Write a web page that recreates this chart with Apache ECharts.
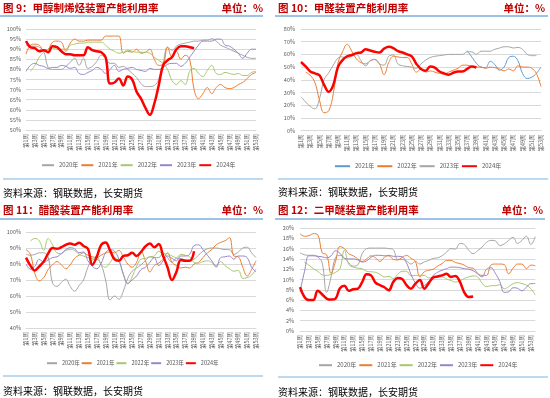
<!DOCTYPE html>
<html>
<head>
<meta charset="utf-8">
<script src="https://cdn.jsdelivr.net/npm/echarts@6/dist/echarts.min.js"></script>
<style>
html,body{margin:0;padding:0;background:#fff;}
#c{width:550px;height:398px;}
</style>
</head>
<body>
<div id="c"></div>
<script>
// ---- categories ----
const weeks = ['第1周','第2周','第3周','第4周','第5周','第6周','第7周','第8周','第9周','第10周',
'第11周','第12周','第13周','第14周','第15周','第16周','第17周','第18周','第19周','第20周',
'第21周','第22周','第23周','第24周','第25周','第26周','第27周','第28周','第29周','第30周',
'第31周','第32周','第33周','第34周','第35周','第36周','第37周','第38周','第39周','第40周',
'第41周','第42周','第43周','第44周','第45周','第46周','第47周','第48周','第49周','第50周',
'第51周','第52周','第53周','第54周'];
const weeks53 = weeks.slice(0, 53);

// ---- panel 1: 甲醇制烯烃 ----
const p1_2020 = [92,91.5,91.5,91,89,81,80,80,80,81.5,83.5,85.5,82,85.5,80.5,81.5,84,87,85.5,83,83,81,81.5,80,78,76,73,71.5,71.5,72,75,83,91,89.5,91.5,92.5,93,93.5,94,94,94.5,94.5,95.2,94,92,91,90,89,88,87,86,85.5,85.5];
const p1_2021 = [87.5,92,92.5,92,89.5,90,93.5,94,93.5,89,93,95,94,94,94.5,94.5,94.5,94.5,96.5,96.5,96.5,96.5,88,89,88.5,90,88,88.5,90,85,82,82.5,91,86,89,85,87,85,70,65.5,68,71,68,71,72.5,71,70.5,71,72.5,73.5,75.5,77.5,78.5];
const p1_2022 = [null,79,82,86,88.5,90,90.5,90,90,90,92,92.5,93,93,93.5,93.5,93.5,93.5,92,90,89,88,88.5,89.5,89,88.5,88.5,88.5,88,86,84.5,83,80,74.5,72.5,74.5,72.5,79,80.5,78,76.5,79.5,82,78,77.5,78.5,78,77.5,78,77,77,78.5,79];
const p1_2023 = [79,82,83,82,81.5,80.5,81,81,82,81.5,80.5,81,78,77.5,78.5,79.5,81,80,78,80,82,79,80,80.5,81,80,79.5,79,80.5,80,80,81,82.5,83,83,81.5,83,86,89,92,94,94,94,95,95,92,91.5,90,88,85.5,88,90,90];
const p1_2024 = [94,91,90.5,89,89.5,88.5,91.5,91,89,87.5,87.5,87,87,87,91,89.5,89,88.5,86,73,73.5,75.5,72,76.5,75,69,65.5,61,57.5,63,72,82,84.5,86,90,91.5,91.5,91,90.5];

// ---- panel 2: 甲醛 ----
const p2_2021 = [null,null,null,null,null,null,null,null,null,null,null,null,null,null,null,null,null,null,null,null,null,null,null,null,null,null,null,null,null,null,null,null,null,null,null,null,63,58,53,50,49.5,54.5,52,47.5,50,57.5,58.5,55,45,41,42,45,50];
const p2_2022 = [null,46,43.5,38,24,14,15.5,29,53,62,68,62.5,56.5,53.5,52.5,55,56,52.5,44,53.5,58.5,58,57.5,57.5,52.5,46,48.5,46,47,46,45,44.5,46,47.5,49,51.5,51.5,50.5,50,50,49,50,49.5,48.5,47,48.5,47,51,50,50,49,45,34.5];
const p2_2023 = [26.5,22.5,19,17,25,40,45.5,51.5,57,58,57,58.5,60,55,51,55,56,52.5,51.5,58.5,59.5,52.5,51,50.5,50,49,52.5,55.5,57.5,58.5,59,59.5,60,60,60,60,62,62,60,62.5,62.5,62.5,64,65,66,66,65,65.5,64,60,59,59,null];
const p2_2024 = [54,50.5,46.5,45,43.5,36,30.5,36,50,55.5,58.5,59.5,61,61.5,64,63,62,61.5,64.5,66,65,62.5,61.5,60,58.5,52.5,48.5,47,50.5,49.5,46.5,45,44,45.5,46.5,46.5,48.5,50.5,49.5];

// ---- panel 3: 醋酸 ----
const p3_2020 = [86,85.5,86,87,87,84.5,68,66,68.5,70.5,66,63,66.5,70,78,82.5,83,79.5,70,57.5,60,58,63,71,75.5,77.5,79.5,82,84.5,84,84,87,84,81,83.5,83.5,82.5,82,83,85.5,88,89.5,90,90,89.5,89,89,86,87.5,90,90.5,87,84];
const p3_2021 = [89,86,74,69.5,71.5,76.5,79.5,81.5,79.5,77,79.5,83.5,85.5,87,85.5,84.5,84,85.5,87,87.5,87,88.5,84.5,80,78,81,88,82,75,79,80.5,83,87,81,79,77.5,78,77.5,80,81,84,87,89,92,93.5,94.5,96.5,85,84.5,78,72.5,76.5,82];
const p3_2022 = [null,94.4,96,94.5,88.5,96,92,87,86.5,88.5,89,88.5,86,85,84,83.5,85,79.5,78,81,84,81.5,74,67.5,72,78.5,83,83.5,84.5,85,88,86,86.5,85,84,86,85.5,84.5,81,80.5,81.5,82,81,79,81.5,79,77,75.5,76,71,71.5,73,77];
const p3_2023 = [80,76.7,78.5,83,81,82.5,84,84.5,86.5,89,90.2,89.5,87,87.5,82,78.5,77,80.5,87,89,88,83,73.5,68,70,72.5,76.5,78,81,84,79,82,85,83.5,82,85,85,86,91.5,92,89,85.5,82,78,84,84.5,85,83,85,85,84,78,75];
const p3_2024 = [84,79,76,78.5,81.5,86.5,90,89.5,90.5,92,92.8,92,93.3,91.3,89.5,79.5,84.5,92,93.5,88.5,83,82,85,85.5,87,85,87.5,91,92.8,90.5,92.5,85,78,70,75,82.5,82,82,88];

// ---- panel 4: 二甲醚 ----
const p4_2020 = [15.2,14.8,14.7,14.7,14.4,13.2,7.5,10.5,14.3,14.7,14.2,13.2,12.6,12.8,15,16,16.1,16.1,16.1,16.1,16,15.8,13.9,13.9,13.6,13,13.5,13,13.4,13.7,14.1,14.2,14.6,15.3,16,15.9,17,16.8,15.7,15,15.6,16.3,17.2,17.6,17.5,16.6,16.9,17.6,18.2,17,17.6,18.4,16.8,18.3];
const p4_2021 = [18.9,18.4,18.5,18.9,18.7,15.2,14.8,11.2,13.5,16.4,16,15,14.6,14,13.5,14,14.6,14.2,13.5,14.3,14.6,13.9,13.8,14.3,14.7,14.1,13.5,10.5,11.5,11.8,12,12.6,13.1,13.7,13.7,13.3,13.1,12.8,12.3,12.2,11.2,10.8,10.8,12.8,13,13,12.9,11.1,12.2,13,13,12.1,12.8,12.7];
const p4_2022 = [null,13.4,12.8,12.1,11.6,10.9,10.8,11,11.4,12.1,15.7,12.9,12.4,12.2,12.1,11.6,11.5,11.4,11,10.5,10.6,10.2,11,11.6,11.6,10.7,10.8,10.8,10.8,10.3,10.4,10.5,10.5,10.1,9.8,9.5,9.7,10.2,10.5,10.7,10.5,9.3,8.6,8.8,8.8,9,8.2,8.6,9.2,9.4,9.2,8.9,8.2,7];
const p4_2023 = [7.6,11.5,14.6,14.6,14.5,14.4,14.2,14.6,15.6,15.1,14.1,14,14,13.8,13.4,13.6,14.3,14.7,14.7,14.6,14.7,14.5,14.5,14.4,13.2,11,9.3,8.3,8.8,9.6,10.8,11.4,11.8,12.1,12.4,12.4,12.3,12.1,12,11.7,11.1,10.5,12,12.3,11.2,9.6,7.5,7.6,8.4,8.3,7.8,8.5,9.2,9.2];
const p4_2024 = [8.5,6.6,6,6,7.8,7.1,6.3,6.1,6.3,8.3,8.8,7.8,8.1,8.2,9.5,11,10.8,9.4,8.9,8.5,7.9,9.5,10.3,10.1,8.9,8.2,9.2,9.9,8.2,9.3,10.4,10.6,10.8,11.1,10.5,10.7,9.6,7.5,6.6,6.7];

// ---- text ----
const titles = ['图 9：甲醇制烯烃装置产能利用率','图 10：甲醛装置产能利用率','图 11：醋酸装置产能利用率','图 12：二甲醚装置产能利用率'];
const unitText = '单位：%';
const sourceText = '资料来源：钢联数据，长安期货';

// ---- styles ----
const C = {gray:'#A5A5A5', orange:'#ED7D31', green:'#A5C86E', purple:'#9A86C6', red:'#FF0000', blue:'#5B9BD5'};
const FONT = '"Noto Sans CJK SC", sans-serif';

function ser(label, panel, idx, data, color, width){
  return {name: label + '|' + panel, type:'line', xAxisIndex: idx, yAxisIndex: idx, data: data,
    smooth: 0.4, symbol:'none', connectNulls:false, lineStyle:{color:color, width:width}, itemStyle:{color:color},
    emphasis:{disabled:true}, silent:true};
}
const series = [
  ser('2020年','a',0,p1_2020,C.gray,1), ser('2021年','a',0,p1_2021,C.orange,1), ser('2022年','a',0,p1_2022,C.green,1),
  ser('2023年','a',0,p1_2023,C.purple,1), ser('2024年','a',0,p1_2024,C.red,2.5),
  ser('2021年','b',1,p2_2021,C.blue,1), ser('2022年','b',1,p2_2022,C.orange,1), ser('2023年','b',1,p2_2023,C.gray,1),
  ser('2024年','b',1,p2_2024,C.red,2.5),
  ser('2020年','c',2,p3_2020,C.gray,1), ser('2021年','c',2,p3_2021,C.orange,1), ser('2022年','c',2,p3_2022,C.green,1),
  ser('2023年','c',2,p3_2023,C.purple,1), ser('2024年','c',2,p3_2024,C.red,2.5),
  ser('2020年','d',3,p4_2020,C.gray,1), ser('2021年','d',3,p4_2021,C.orange,1), ser('2022年','d',3,p4_2022,C.green,1),
  ser('2023年','d',3,p4_2023,C.purple,1), ser('2024年','d',3,p4_2024,C.red,2.5)
];

function xAx(idx, cats){
  return {type:'category', gridIndex: idx, data: cats, boundaryGap:false,
    axisLine:{lineStyle:{color:'#D9D9D9'}}, axisTick:{show:false},
    axisLabel:{rotate:90, interval:1, fontSize:5.5, color:'#595959', margin:4, fontFamily:FONT}};
}
function yAx(idx, min, max, step, margin){
  return {type:'value', gridIndex: idx, min:min, max:max, interval:step,
    axisLine:{show:false}, axisTick:{show:false},
    splitLine:{lineStyle:{color:'#D9D9D9', width:1}},
    axisLabel:{formatter:'{value}%', fontSize:5.5, color:'#595959', margin:margin, fontFamily:FONT}};
}
function leg(panel, names, left, top, iw, gap, fs){
  return {left:left, top:top, padding:0, itemWidth:iw, itemHeight:8, itemGap:gap, selectedMode:false,
    itemStyle:{color:'rgba(0,0,0,0)', borderColor:'rgba(0,0,0,0)', borderWidth:0, opacity:0},
    data: names.map(n => n + '|' + panel), formatter: n => n.split('|')[0],
    textStyle:{fontSize:fs, color:'#595959', fontFamily:FONT}};
}
const yrs5 = ['2020年','2021年','2022年','2023年','2024年'];
const yrs4 = ['2021年','2022年','2023年','2024年'];

const tStyle = {fill:'#C00000', font:'bold 10.5px ' + FONT, verticalAlign:'middle'};
function txt(x, y, s, extra){ return {type:'text', silent:true, style:Object.assign({x:x, y:y, text:s}, extra)}; }
function ln(x1, y1, x2, y2, color, w){ return {type:'line', silent:true, shape:{x1:x1,y1:y1,x2:x2,y2:y2}, style:{stroke:color, lineWidth:w}}; }
const srcStyle = {fill:'#000', font:'10px ' + FONT, verticalAlign:'middle'};

const graphic = [
  txt(3, 8, titles[0], Object.assign({align:'left'}, tStyle)),
  txt(263, 8, unitText, Object.assign({align:'right'}, tStyle)),
  ln(0, 16, 263, 16, '#9DC3E6', 2),
  txt(278, 8, titles[1], Object.assign({align:'left'}, tStyle)),
  txt(545, 8, unitText, Object.assign({align:'right'}, tStyle)),
  ln(275, 16, 548, 16, '#9DC3E6', 2),
  txt(3, 210, titles[2], Object.assign({align:'left'}, tStyle)),
  txt(263, 210, unitText, Object.assign({align:'right'}, tStyle)),
  ln(0, 219, 263, 219, '#9DC3E6', 2),
  txt(278, 210, titles[3], Object.assign({align:'left'}, tStyle)),
  txt(543, 210, unitText, Object.assign({align:'right'}, tStyle)),
  ln(275, 219, 545, 219, '#9DC3E6', 2),
  ln(3, 179, 263, 179, '#A9CCE8', 1.5),
  ln(278, 179, 548, 179, '#A9CCE8', 1.5),
  ln(3, 376, 263, 376, '#A9CCE8', 1.5),
  ln(278, 377, 548, 377, '#A9CCE8', 1.5),
  txt(3, 193, sourceText, Object.assign({align:'left'}, srcStyle)),
  txt(278, 192.5, sourceText, Object.assign({align:'left'}, srcStyle)),
  txt(3, 391, sourceText, Object.assign({align:'left'}, srcStyle)),
  txt(278, 392, sourceText, Object.assign({align:'left'}, srcStyle))
];

const option = {
  animation:false,
  textStyle:{fontFamily:FONT},
  grid:[
    {left:26, top:29, width:230, height:101},
    {left:301, top:29, width:240, height:101.5},
    {left:26, top:232, width:230, height:96},
    {left:300, top:228, width:235.3, height:103}
  ],
  xAxis:[xAx(0, weeks53), xAx(1, weeks53), xAx(2, weeks53), xAx(3, weeks)],
  yAxis:[yAx(0,50,100,5,5), yAx(1,0,80,10,6), yAx(2,40,100,10,5), yAx(3,0,20,2,6)],
  legend:[
    leg('a', yrs5, 41, 162, 12, 2, 6),
    leg('b', yrs4, 334, 163, 15, 2, 6),
    leg('c', yrs5, 46, 360, 10, 1, 5.5),
    leg('d', yrs5, 318, 362, 13, 2, 6)
  ],
  graphic: graphic,
  series: series
};
const chart = echarts.init(document.getElementById('c'), null, {renderer:'canvas'});
chart.setOption(option);
</script>
</body>
</html>
